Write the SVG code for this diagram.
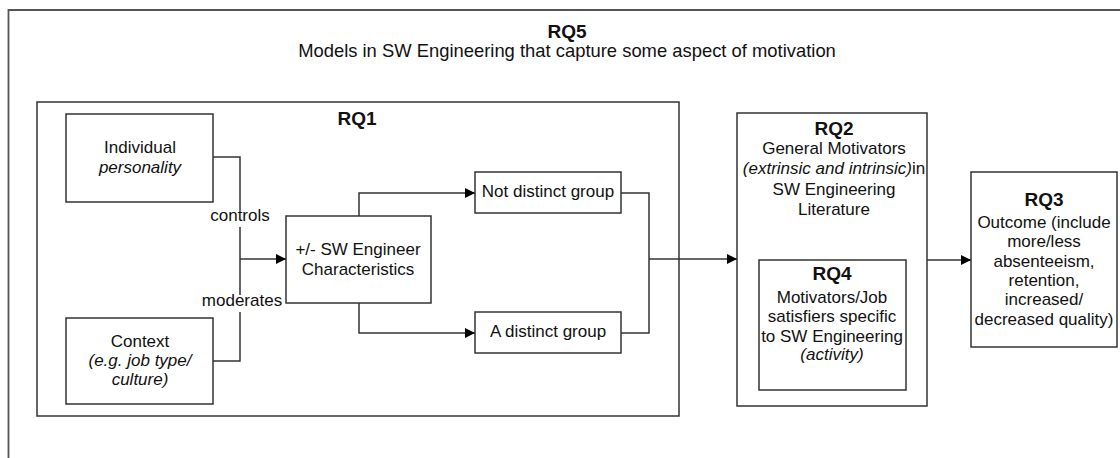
<svg xmlns="http://www.w3.org/2000/svg" width="1120" height="458" viewBox="0 0 1120 458">
<style>
.box{fill:none;stroke:#333;stroke-width:1.5}
.ln{fill:none;stroke:#333;stroke-width:1.5}
text{font-family:"Liberation Sans",Arial,sans-serif;fill:#111;text-anchor:middle}
.t{font-size:17px}
.h{font-size:19px;font-weight:bold}
.i{font-style:italic}
</style>
<defs>
<marker id="arr" viewBox="0 0 10 10" refX="10" refY="5" markerWidth="10" markerHeight="10" markerUnits="userSpaceOnUse" orient="auto">
<path d="M0,0 L10,5 L0,10 Z" fill="#000"/>
</marker>
</defs>
<rect width="1120" height="458" fill="#fff"/>
<g id="rq5">
<path class="box" d="M1125,10 H8.5 V465" style="stroke:#555;stroke-width:1.8"/>
<text class="h" x="567" y="38">RQ5</text>
<text class="t" x="567" y="57" style="font-size:18.4px">Models in SW Engineering that capture some aspect of motivation</text>
</g>
<g id="rq1">
<rect class="box" x="37" y="102" width="642" height="314"/>
<text class="h" x="357" y="125">RQ1</text>
</g>
<g id="individual">
<rect class="box" x="66" y="114" width="147" height="88"/>
<text class="t" x="140" y="153">Individual</text>
<text class="t i" x="140" y="173">personality</text>
</g>
<g id="context">
<rect class="box" x="66" y="318" width="147" height="86"/>
<text class="t" x="140" y="347">Context</text>
<text class="t i" x="140" y="366">(e.g. job type/</text>
<text class="t i" x="140" y="385">culture)</text>
</g>
<g id="characteristics">
<rect class="box" x="286" y="216" width="145" height="87"/>
<text class="t" x="358" y="255">+/- SW Engineer</text>
<text class="t" x="358" y="275">Characteristics</text>
</g>
<g id="notdistinct">
<rect class="box" x="475" y="172" width="146" height="41"/>
<text class="t" x="548" y="197">Not distinct group</text>
</g>
<g id="distinct">
<rect class="box" x="475" y="312" width="146" height="41"/>
<text class="t" x="548" y="337">A distinct group</text>
</g>
<g id="rq2">
<rect class="box" x="737" y="113" width="190" height="293"/>
<text class="h" x="834" y="135">RQ2</text>
<text class="t" x="834" y="154">General Motivators</text>
<text class="t" x="834" y="174"><tspan class="i">(extrinsic and intrinsic)</tspan>in</text>
<text class="t" x="834" y="195">SW Engineering</text>
<text class="t" x="834" y="215">Literature</text>
</g>
<g id="rq4">
<rect class="box" x="759" y="260" width="147" height="130"/>
<text class="h" x="832" y="280">RQ4</text>
<text class="t" x="832" y="303">Motivators/Job</text>
<text class="t" x="832" y="322">satisfiers specific</text>
<text class="t" x="832" y="342">to SW Engineering</text>
<text class="t i" x="832" y="360">(activity)</text>
</g>
<g id="rq3">
<rect class="box" x="971" y="172" width="146" height="175"/>
<text class="h" x="1044" y="206">RQ3</text>
<text class="t" x="1044" y="228">Outcome (include</text>
<text class="t" x="1044" y="247">more/less</text>
<text class="t" x="1044" y="267">absenteeism,</text>
<text class="t" x="1044" y="286">retention,</text>
<text class="t" x="1044" y="305">increased/</text>
<text class="t" x="1044" y="325">decreased quality)</text>
</g>
<g id="connectors">
<path class="ln" d="M213,157 H240 V210 M240,227 V295 M240,312 V361 H213"/>
<path class="ln" d="M240,259 H286" marker-end="url(#arr)"/>
<text class="t" x="240" y="221">controls</text>
<text class="t" x="242" y="306">moderates</text>
<path class="ln" d="M359,216 V193 H475" marker-end="url(#arr)"/>
<path class="ln" d="M359,303 V333 H475" marker-end="url(#arr)"/>
<path class="ln" d="M621,193 H649 V333 H621"/>
<path class="ln" d="M649,259 H737" marker-end="url(#arr)"/>
<path class="ln" d="M927,260 H971" marker-end="url(#arr)"/>
</g>
</svg>
